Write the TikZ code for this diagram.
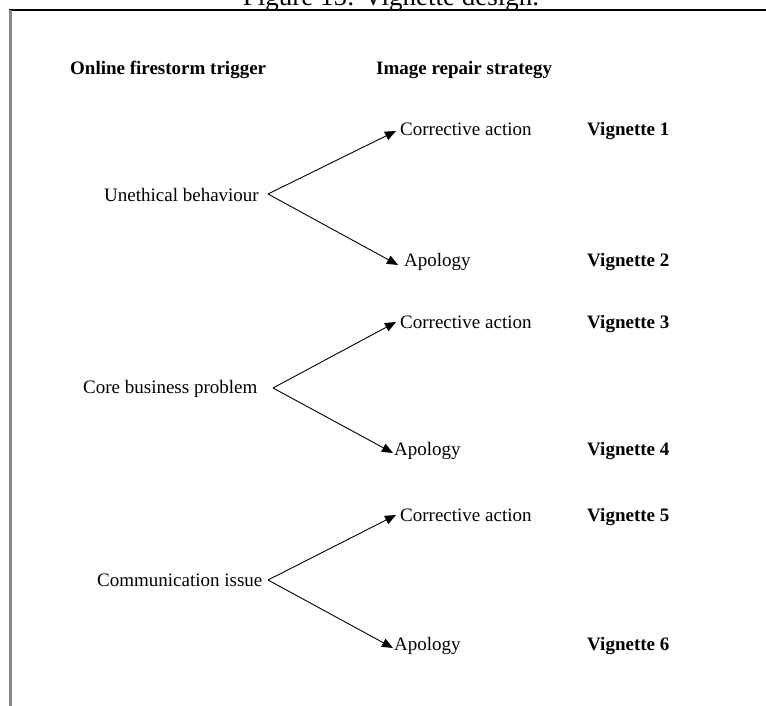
\documentclass[tikz,border=0pt]{standalone}
\usepackage{fontspec}
\setmainfont{Liberation Serif}
\usetikzlibrary{arrows.meta}
\definecolor{frameedge}{RGB}{136,136,136}
\begin{document}
\begin{tikzpicture}[x=1pt,y=-1pt,
  lbl/.style={anchor=base west,inner sep=0pt,font=\fontsize{19}{22}\selectfont},
  hdr/.style={anchor=base west,inner sep=0pt,font=\fontsize{19}{22}\selectfont\bfseries},
  arr/.style={line width=0.9pt,-{Triangle[length=11pt,width=9pt]}}]
\useasboundingbox (0,0) rectangle (766,706);
\begin{scope}
\clip (0,0) rectangle (766,9);
\node[anchor=base,inner sep=0pt,font=\fontsize{27}{30}\selectfont] (cap) at (391,6) {Figure 15: Vignette design.};
\end{scope}
\draw[line width=2pt] (9,10) -- (766,10);
\draw[line width=3pt,frameedge] (10.5,10) -- (10.5,706);

% headers
\node[hdr] (h1) at (70,75) {Online firestorm trigger};
\node[hdr] (h2) at (376,75) {Image repair strategy};

% group 1
\node[lbl] (t1) at (104,201) {Unethical behaviour};
\node[lbl] (c1) at (400,136) {Corrective action};
\node[lbl] (a1) at (404,266) {Apology};
\node[hdr] (v1) at (587,136) {Vignette 1};
\node[hdr] (v2) at (587,266) {Vignette 2};
\coordinate (f1) at (268,194);
\coordinate (c1t) at (396,131);
\coordinate (a1t) at (398,265);
\draw[arr] (f1) -- (c1t);
\draw[arr] (f1) -- (a1t);

% group 2
\node[lbl] (t2) at (83,393) {Core business problem};
\node[lbl] (c2) at (400,328) {Corrective action};
\node[lbl] (a2) at (394,455) {Apology};
\node[hdr] (v3) at (587,328) {Vignette 3};
\node[hdr] (v4) at (587,455) {Vignette 4};
\coordinate (f2) at (273,388);
\coordinate (c2t) at (396,322);
\coordinate (a2t) at (393,453);
\draw[arr] (f2) -- (c2t);
\draw[arr] (f2) -- (a2t);

% group 3
\node[lbl] (t3) at (97,586) {Communication issue};
\node[lbl] (c3) at (400,521) {Corrective action};
\node[lbl] (a3) at (394,650) {Apology};
\node[hdr] (v5) at (587,521) {Vignette 5};
\node[hdr] (v6) at (587,650) {Vignette 6};
\coordinate (f3) at (268,580);
\coordinate (c3t) at (396,515);
\coordinate (a3t) at (393,648);
\draw[arr] (f3) -- (c3t);
\draw[arr] (f3) -- (a3t);
\end{tikzpicture}
\end{document}
